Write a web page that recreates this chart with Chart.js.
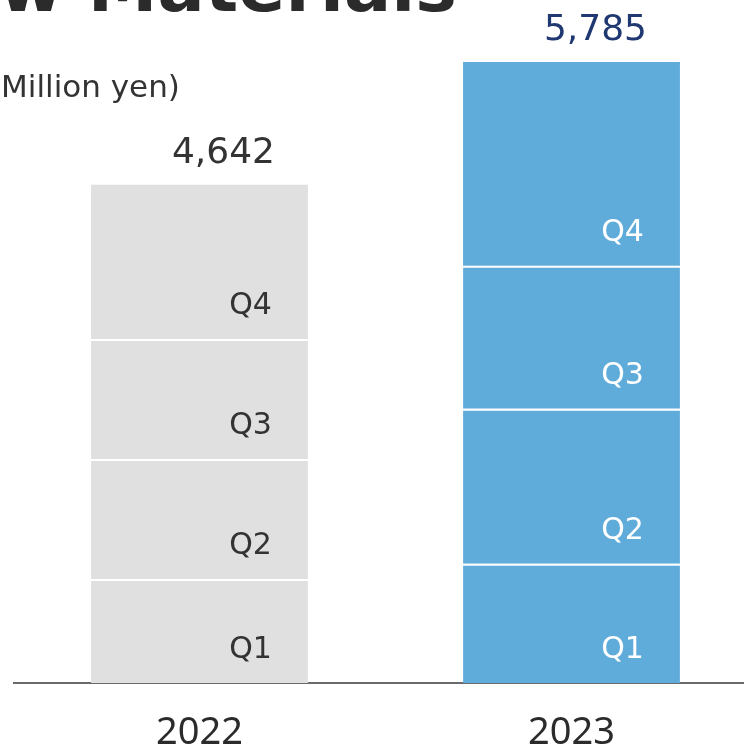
<!DOCTYPE html>
<html>
<head>
<meta charset="utf-8">
<script src="https://cdn.jsdelivr.net/npm/chart.js@4.4.1/dist/chart.umd.min.js"></script>
<style>
  html, body { margin: 0; padding: 0; background: #fff; overflow: hidden; }
  #wrap { position: absolute; left: 0; top: 0; width: 760px; height: 747px; }
</style>
</head>
<body>
<div id="wrap"><canvas id="chart"></canvas></div>
<script>
// Net sales by quarter, million yen
const years = ['2022', '2023'];
const quarters = ['Q1', 'Q2', 'Q3', 'Q4'];
const q1 = [969, 1111];
const q2 = [1118, 1444];
const q3 = [1118, 1332];
const q4 = [1437, 1898];
const series = [q1, q2, q3, q4];

const barColors = ['#e0e0e0', '#5fabda'];
const quarterTextColors = ['#333333', '#ffffff'];
const totalTextColors = ['#333333', '#1f3872'];

const totals = years.map((_, i) => series.reduce((s, arr) => s + arr[i], 0));

const datasets = series.map((data, k) => ({
  label: quarters[k],
  data: data,
  backgroundColor: barColors,
  borderColor: '#ffffff',
  borderWidth: k < series.length - 1 ? { top: 2, right: 0, bottom: 0, left: 0 } : 0,
  borderSkipped: false,
  barPercentage: 0.583,
  categoryPercentage: 1.0
}));

// Draws quarter names inside each segment, yearly totals above bars, and the heading
const labelPlugin = {
  id: 'labels',
  afterDatasetsDraw(chart) {
    const ctx = chart.ctx;
    ctx.save();
    ctx.textBaseline = 'middle';
    ctx.textAlign = 'right';

    // quarter names
    ctx.font = '30px "DejaVu Sans"';
    chart.data.datasets.forEach((ds, k) => {
      const meta = chart.getDatasetMeta(k);
      meta.data.forEach((bar, i) => {
        const p = bar.getProps(['x', 'y', 'base', 'width'], true);
        ctx.fillStyle = quarterTextColors[i];
        ctx.fillText(ds.label, p.x + p.width / 2 - 36, p.base - 33);
      });
    });

    // totals
    ctx.font = '36px "DejaVu Sans"';
    const top = chart.getDatasetMeta(chart.data.datasets.length - 1);
    top.data.forEach((bar, i) => {
      const p = bar.getProps(['x', 'y', 'width'], true);
      ctx.fillStyle = totalTextColors[i];
      ctx.fillText(totals[i].toLocaleString('en-US'), p.x + p.width / 2 - 33, p.y - 31);
    });

    // heading and unit
    ctx.fillStyle = '#2b2b2b';
    ctx.textBaseline = 'alphabetic';
    ctx.font = 'bold 70px "DejaVu Sans"';
    ctx.fillText('New Materials', 457, 11);
    ctx.textAlign = 'left';
    ctx.fillStyle = '#333333';
    ctx.font = '31px "DejaVu Sans"';
    ctx.fillText('(Million yen)', -11, 97);
    ctx.restore();
  }
};

new Chart(document.getElementById('chart'), {
  type: 'bar',
  data: { labels: years, datasets: datasets },
  options: {
    responsive: true,
    maintainAspectRatio: false,
    animation: false,
    layout: { padding: { left: 13.5, right: 2.5, top: 39, bottom: 0 } },
    plugins: { legend: { display: false }, tooltip: { enabled: false } },
    scales: {
      x: {
        stacked: true,
        grid: { display: false, drawTicks: false },
        border: { display: true, color: '#6b6b6b', width: 2 },
        ticks: { color: '#2b2b2b', font: { family: 'Noto Sans', size: 38 }, padding: 27 },
        afterFit(scale) { scale.height = 64; }
      },
      y: {
        stacked: true,
        display: false,
        min: 0,
        max: 6000
      }
    }
  },
  plugins: [labelPlugin]
});
</script>
</body>
</html>
